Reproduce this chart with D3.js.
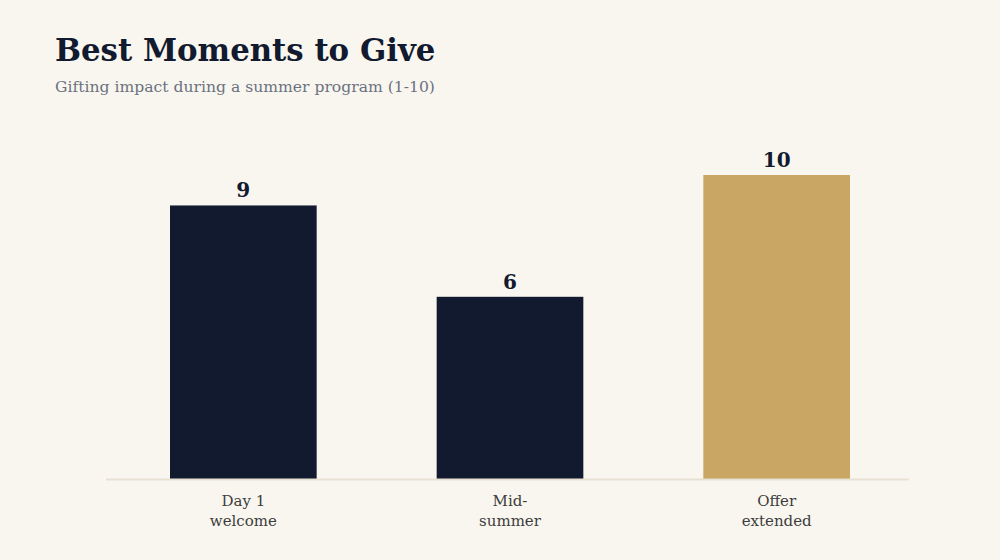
<!DOCTYPE html>
<html>
<head>
<meta charset="utf-8">
<script src="https://cdn.jsdelivr.net/npm/d3@7"></script>
<style>
  html, body { margin: 0; padding: 0; background: #f9f6ef; }
  svg { display: block; font-family: "DejaVu Serif", Georgia, serif; }
</style>
</head>
<body>
<div id="chart"></div>
<script>
const categories = [["Day 1", "welcome"], ["Mid-", "summer"], ["Offer", "extended"]];
const values = [9, 6, 10];
const highlight = [false, false, true];

const width = 1000;
const height = 560;
const margin = {top: 175, right: 90, bottom: 80.5, left: 110};

const svg = d3.select("#chart").append("svg")
  .attr("width", width)
  .attr("height", height)
  .attr("viewBox", [0, 0, width, height]);

svg.append("rect").attr("width", width).attr("height", height).attr("fill", "#f9f6ef");

svg.append("text")
  .attr("x", 55).attr("y", 61)
  .attr("font-size", 30.8).attr("font-weight", "bold")
  .attr("fill", "#111a2e")
  .text("Best Moments to Give");

svg.append("text")
  .attr("x", 55).attr("y", 92)
  .attr("font-size", 15.6)
  .attr("fill", "#6b7280")
  .text("Gifting impact during a summer program (1-10)");

const keys = categories.map(d => d.join(" "));

const x = d3.scaleBand()
  .domain(keys)
  .range([margin.left, width - margin.right])
  .paddingInner(0.45)
  .paddingOuter(0.225);

const y = d3.scaleLinear()
  .domain([0, 10])
  .range([height - margin.bottom, margin.top]);

svg.append("g")
  .selectAll("rect")
  .data(values)
  .join("rect")
  .attr("x", (d, i) => x(keys[i]))
  .attr("y", d => y(d))
  .attr("width", x.bandwidth())
  .attr("height", d => y(0) - y(d))
  .attr("fill", (d, i) => highlight[i] ? "#c9a663" : "#111a2e");

svg.append("g")
  .selectAll("text")
  .data(values)
  .join("text")
  .attr("x", (d, i) => x(keys[i]) + x.bandwidth() / 2)
  .attr("y", d => y(d) - 8)
  .attr("text-anchor", "middle")
  .attr("font-size", 20).attr("font-weight", "bold")
  .attr("fill", "#111a2e")
  .text(d => d);

// baseline axis
const axis = svg.append("g")
  .attr("transform", `translate(0, ${y(0)})`)
  .call(d3.axisBottom(x).tickSize(0).tickFormat(""));
axis.select(".domain").attr("stroke", "#e8e1d3").attr("stroke-width", 2)
  .attr("d", `M${margin.left - 4},0H${width - margin.right - 1}`);

const labels = svg.append("g")
  .selectAll("text")
  .data(categories)
  .join("text")
  .attr("x", (d, i) => x(keys[i]) + x.bandwidth() / 2)
  .attr("y", y(0) + 26)
  .attr("text-anchor", "middle")
  .attr("font-size", 15)
  .attr("fill", "#3d3d3d");
labels.selectAll("tspan")
  .data(d => d)
  .join("tspan")
  .attr("x", function() { return this.parentNode.getAttribute("x"); })
  .attr("dy", (d, i) => i === 0 ? 0 : 20)
  .text(d => d);
</script>
</body>
</html>
